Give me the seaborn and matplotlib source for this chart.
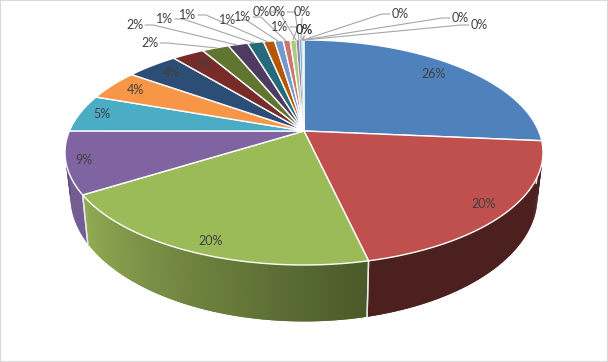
import numpy as np
import seaborn as sns
import matplotlib
matplotlib.use('Agg')
import matplotlib.pyplot as plt
from matplotlib.colors import to_rgb

# slice shares, clockwise from 12 o'clock
values = [26.4, 20.0, 19.7, 8.9, 5.4, 4.4, 4.2, 2.6, 2.2, 1.6, 1.3, 0.9, 0.7, 0.57, 0.49,
          0.26, 0.19, 0.05, 0.04, 0.03, 0.03, 0.02, 0.01]
pct_labels = ['26%', '20%', '20%', '9%', '5%', '4%', '4%', '3%', '2%', '2%', '1%', '1%', '1%', '1%', '1%',
              '0%', '0%', '0%', '0%', '0%', '0%', '0%', '0%']
colors = ['#4F81BD', '#C0504D', '#9BBB59', '#8064A2', '#4BACC6', '#F79646', '#2C4D75', '#772C2A',
          '#5F7530', '#4D3B62', '#276A7C', '#B65708', '#729ACA', '#CD7371', '#AFC97A', '#9A85B4',
          '#6FBDD1', '#F9AB6B', '#3A679C', '#9E3B38', '#7F9C47', '#6A5387', '#2C7F95']

# label positions in picture pixels
inside_xy = [(434, 74), (484, 204), (211, 241), (84, 160), (102, 114), (135, 90), (171, 73), (203, 64)]
# text x, text y, leader end x, leader end y
outside_xy = [(135, 25, 237, 45), (150, 43, 217, 48), (165, 19, 254, 43), (188, 15, 268, 42),
              (228, 20, 278, 41), (243, 17, 286, 41), (280, 27, 293, 40), (261, 12, 296, 40),
              (277, 12, 299, 40), (302, 12, 301, 40), (304, 30, 302, 40), (304.4, 30, 303, 40),
              (400, 14, 303, 40), (460, 18, 303, 40), (479, 25, 304, 40)]

CX, CY = 304, 131
A, B, K = 234.6, 108.4, 0.191


def top(th):
    u, v = np.sin(th), -np.cos(th)
    d = 1 - K*v
    return CX + A*u/d, CY + B*v/d


def base(th):
    x, y = top(th)
    return CX + 0.977*(x-CX), 172.7 + 1.11*(y-CY)


sns.set_theme(style='white')
plt.rcParams['font.family'] = ['Lato', 'DejaVu Sans']
palette = sns.color_palette(colors)

fig = plt.figure(figsize=(6.08, 3.62), dpi=100)
ax = fig.add_axes([0, 0, 1, 1])
ax.set_xlim(0, 608)
ax.set_ylim(362, 0)
ax.set_xticks([])
ax.set_yticks([])
for s in ax.spines.values():
    s.set_color('#d9d9d9')
    s.set_linewidth(1.5)

edges = np.cumsum([0] + values) / sum(values) * 2*np.pi

# outer wall, only the part facing us
wall = {1: ('#4d2020', '#4d2020'), 2: ('#4a5a2a', '#93ab54'), 3: ('#6d5590', '#63497f')}
for i, (c0, c1) in wall.items():
    a0, a1 = edges[i], edges[i+1]
    if i == 1:
        a0 = np.radians(92)
    if i == 3:
        a1 = np.radians(261)
    ths = np.linspace(a0, a1, 90)
    c0, c1 = np.array(to_rgb(c0)), np.array(to_rgb(c1))
    for j in range(len(ths)-1):
        t = j/(len(ths)-2)
        # overlap the next strip so no seams show
        aa = np.linspace(ths[j], ths[min(j+2, len(ths)-1)], 4)
        xt, yt = top(aa)
        xb, yb = base(aa)
        col = c0 + (c1-c0)*t
        ax.fill(np.r_[xt, xb[::-1]], np.r_[yt, yb[::-1]], facecolor=col, edgecolor='none', zorder=1)
    # white seam at the slice edges
    for a in (edges[i], edges[i+1]):
        if a < np.radians(262):
            ax.plot([top(a)[0], base(a)[0]], [top(a)[1], base(a)[1]], color='#e8e8e8', lw=1, zorder=2)

# top faces
for i, col in enumerate(palette):
    aa = np.linspace(edges[i], edges[i+1], 80)
    x, y = top(aa)
    ax.fill(np.r_[CX, x], np.r_[CY, y], facecolor=col, edgecolor='white', lw=1.0 if values[i] > 0.3 else 0.3,
            joinstyle='round', zorder=3)

# labels inside the pie
for lab, (x, y) in zip(pct_labels[:8], inside_xy):
    ax.text(x, y, lab, fontsize=9, color='#404040', ha='center', va='center', zorder=6)

# labels outside with leaders
for lab, (x, y, ex, ey) in zip(pct_labels[8:], outside_xy):
    ax.text(x, y, lab, fontsize=9, color='#404040', ha='center', va='center', zorder=6)
    sx = x + 10 if x < ex else x - 10
    if abs(x-ex) < 12:
        sx, sy = x, y + 6
        ax.plot([sx, ex], [sy, ey], color='#a6a6a6', lw=0.8, zorder=5)
    else:
        kx = sx + (8 if x < ex else -8)
        ax.plot([sx, kx, ex], [y, y, ey], color='#a6a6a6', lw=0.8, zorder=5)

fig.savefig('out.png', dpi=100)
